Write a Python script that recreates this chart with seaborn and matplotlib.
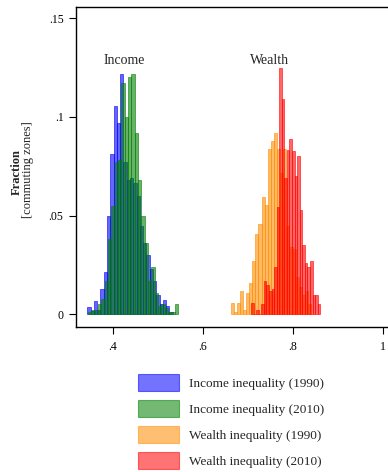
import numpy as np
import pandas as pd
import seaborn as sns
import matplotlib.pyplot as plt
from matplotlib.patches import Patch

# fraction of commuting zones per bin
income_1990 = [0.0035, 0.0017, 0.0066, 0.002, 0.013, 0.0213, 0.0498, 0.081, 0.1055, 0.097,
               0.1217, 0.077, 0.068, 0.069, 0.0665, 0.060, 0.045, 0.036, 0.030, 0.023,
               0.017, 0.010, 0.005, 0.0075, 0.004, 0.001]
income_2010 = [0.001, 0.002, 0.002, 0.005, 0.008, 0.017, 0.038, 0.055, 0.077, 0.078,
               0.117, 0.100, 0.120, 0.122, 0.092, 0.068, 0.050, 0.036, 0.017, 0.024,
               0.011, 0.004, 0.005, 0.003, 0.001, 0.001, 0.005]
wealth_1990 = [0.0056, 0.001, 0.0056, 0.012, 0.0024, 0.0106, 0.016, 0.027, 0.0407, 0.0457,
               0.0596, 0.0554, 0.0836, 0.088, 0.092, 0.0836, 0.0714, 0.0836, 0.045, 0.034,
               0.033, 0.019, 0.014, 0.010, 0.012, 0.005]
wealth_2010 = [0.0056, 0.0, 0.0024, 0.0, 0.005, 0.017, 0.015, 0.012, 0.013, 0.024,
               0.0545, 0.1246, 0.109, 0.069, 0.0834, 0.089, 0.083, 0.070, 0.080, 0.053,
               0.035, 0.026, 0.024, 0.027, 0.010, 0.010, 0.005]

# bin start and bin width of each histogram
bin_start = {'income_1990': 0.3436, 'income_2010': 0.3455, 'wealth_1990': 0.662, 'wealth_2010': 0.7074}
bin_width = {'income_1990': 0.0073, 'income_2010': 0.0074, 'wealth_1990': 0.00689, 'wealth_2010': 0.0057}

series = [
    ('income_1990', income_1990, 'Income inequality (1990)', '#0000ff'),
    ('income_2010', income_2010, 'Income inequality (2010)', '#008000'),
    ('wealth_1990', wealth_1990, 'Wealth inequality (1990)', '#ff8c00'),
    ('wealth_2010', wealth_2010, 'Wealth inequality (2010)', '#ff0000'),
]

x_ticks = [0.4, 0.6, 0.8, 1.0]
x_ticklabels = ['.4', '.6', '.8', '1']
y_ticks = [0, 0.05, 0.1, 0.15]
y_ticklabels = ['0', '.05', '.1', '.15']

sns.set_style('ticks')
plt.rcParams['font.family'] = ['Liberation Serif', 'DejaVu Serif']

fig = plt.figure(figsize=(3.88, 4.72), dpi=100)
ax = fig.add_axes([76 / 388, 145 / 472, 312 / 388, 320 / 472])

handles = []
for key, vals, label, color in series:
    n = len(vals)
    edges = bin_start[key] + bin_width[key] * np.arange(n + 1)
    df = pd.DataFrame({'center': (edges[:-1] + edges[1:]) / 2, 'frac': vals})
    sns.histplot(data=df, x='center', weights='frac', bins=list(edges), stat='count',
                 color=color, alpha=0.6, edgecolor=color, linewidth=0.4, ax=ax)
    handles.append(Patch(facecolor=color, edgecolor=color, alpha=0.55, linewidth=0.8, label=label))

ax.set_xlim(0.3185, 1.0118)
ax.set_ylim(-0.0064, 0.1557)
ax.set_xticks(x_ticks)
ax.set_xticklabels(x_ticklabels)
ax.set_yticks(y_ticks)
ax.set_yticklabels(y_ticklabels)
ax.tick_params(axis='both', labelsize=8.5, length=5, width=0.8, direction='out', colors='black')
ax.tick_params(axis='y', pad=4)
ax.tick_params(axis='x', pad=5)
ax.set_xlabel('')
ax.set_ylabel('')
for side in ['left', 'bottom', 'top']:
    ax.spines[side].set_linewidth(1.0)
    ax.spines[side].set_color('black')
ax.spines['right'].set_visible(False)

ax.text(0.425, 0.1288, 'Income', ha='center', va='center', fontsize=10)
ax.text(0.7496, 0.1288, 'Wealth', ha='center', va='center', fontsize=10)

fig.text(17 / 388, 1 - 172 / 472, 'Fraction', rotation=90, ha='center', va='center',
         fontsize=9, fontweight='bold')
fig.text(28 / 388, 1 - 170 / 472, '[commuting zones]', rotation=90, ha='center', va='center',
         fontsize=9)

fig.legend(handles=handles, loc='upper left', bbox_to_anchor=(138 / 388, 1 - 374 / 472),
           frameon=False, borderpad=0, borderaxespad=0, fontsize=9.5,
           handlelength=3.1, handleheight=1.6, labelspacing=0.68, handletextpad=0.76)

fig.savefig('out.png', dpi=100)
